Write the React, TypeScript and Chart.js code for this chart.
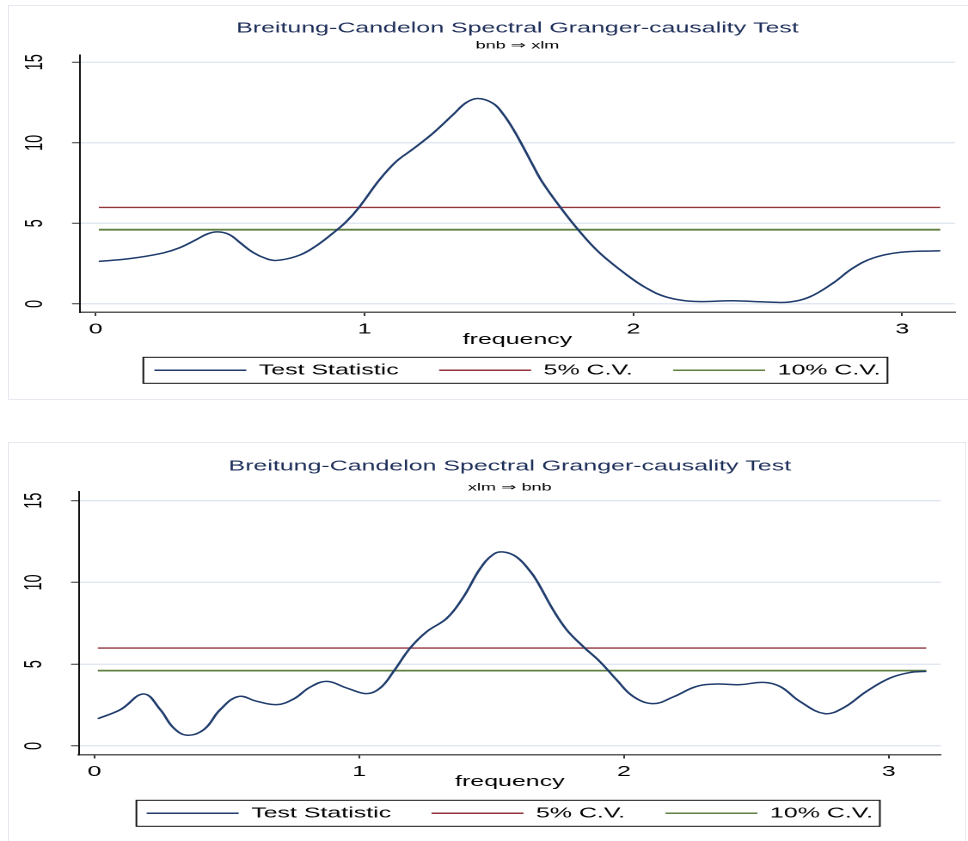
import React, { useEffect, useRef } from "react";
import { Chart, registerables } from "chart.js";

Chart.register(...registerables);

// ---------- data ----------
const xTicks = [0, 1, 2, 3];
const yTicks = [0, 5, 10, 15];
const titleText = "Breitung-Candelon Spectral Granger-causality Test";
const subtitleTop = "bnb \u21D2 xlm";
const subtitleBottom = "xlm \u21D2 bnb";
const xTitle = "frequency";
const legendLabels = ["Test Statistic", "5% C.V.", "10% C.V."];
const cv5 = 5.99;
const cv10 = 4.61;

const freqTop = [0.012, 0.126, 0.25, 0.31, 0.374, 0.418, 0.455, 0.498, 0.536, 0.585, 0.635, 0.672, 0.746, 0.808, 0.883, 0.932, 0.98, 1.056, 1.118, 1.18, 1.255, 1.329, 1.379, 1.422, 1.478, 1.515, 1.553, 1.59, 1.625, 1.66, 1.726, 1.8, 1.875, 1.974, 2.048, 2.123, 2.222, 2.37, 2.495, 2.581, 2.655, 2.743, 2.817, 2.892, 2.991, 3.1416];
const statTop = [2.64, 2.81, 3.16, 3.47, 3.99, 4.36, 4.47, 4.3, 3.82, 3.2, 2.81, 2.7, 2.95, 3.47, 4.4, 5.1, 6.0, 7.71, 8.84, 9.61, 10.6, 11.74, 12.5, 12.75, 12.45, 11.8, 10.85, 9.75, 8.65, 7.6, 6.05, 4.5, 3.16, 1.82, 0.99, 0.43, 0.16, 0.2, 0.12, 0.12, 0.43, 1.3, 2.23, 2.85, 3.2, 3.3];

const freqBottom = [0.013, 0.098, 0.186, 0.249, 0.299, 0.35, 0.413, 0.475, 0.545, 0.614, 0.689, 0.752, 0.815, 0.878, 0.954, 1.029, 1.079, 1.13, 1.192, 1.255, 1.331, 1.394, 1.457, 1.507, 1.545, 1.595, 1.645, 1.671, 1.733, 1.784, 1.846, 1.909, 1.972, 2.035, 2.11, 2.186, 2.274, 2.35, 2.438, 2.526, 2.589, 2.664, 2.758, 2.828, 2.916, 3.004, 3.079, 3.1416];
const statBottom = [1.67, 2.22, 3.18, 2.22, 1.11, 0.66, 1.0, 2.22, 3.03, 2.73, 2.53, 2.87, 3.6, 3.95, 3.54, 3.2, 3.54, 4.56, 5.98, 6.99, 7.81, 9.12, 10.85, 11.72, 11.86, 11.55, 10.7, 10.1, 8.31, 7.1, 6.08, 5.16, 4.05, 3.03, 2.59, 3.0, 3.64, 3.79, 3.75, 3.89, 3.64, 2.73, 1.98, 2.33, 3.34, 4.15, 4.49, 4.56];

// ---------- styles / geometry ----------
const LOGICAL_W = 563; // canvas is stretched horizontally to 968 css px
const CSS_W = 968;
const FONT = "'Liberation Sans', Arial, Helvetica, sans-serif";
const NAVY = "#1f3c6c";
const MAROON = "#93353b";
const GREEN = "#5f8040";
const TITLE_COLOR = "#1c2d58";
const GRID = "#e2e8f1";

type Geo = {
  cssTop: number;
  height: number;
  padTop: number;
  padBottom: number;
  padRight: number;
  titlePadBottom: number;
  subPadBottom: number;
  yWidth: number;
  xHeight: number;
  xTitlePadBottom: number;
  yMin: number;
  yMax: number;
  frameLeft: number;
  frameRight: number;
};

const geoTop: Geo = {
  cssTop: 0,
  height: 420,
  padTop: 19.6,
  padBottom: 32.45,
  padRight: 7.6,
  titlePadBottom: 2.1,
  subPadBottom: 3.3,
  yWidth: 46.53,
  xHeight: 27.55,
  xTitlePadBottom: -9.15,
  yMin: -0.5,
  yMax: 15.45,
  frameLeft: 6.4,
  frameRight: 4,
};

const geoBottom: Geo = {
  cssTop: 420,
  height: 421,
  padTop: 38,
  padBottom: 10.45,
  padRight: 15.9,
  titlePadBottom: 5.7,
  subPadBottom: -2.0,
  yWidth: 45.95,
  xHeight: 28.05,
  xTitlePadBottom: -8.35,
  yMin: -0.52,
  yMax: 15.55,
  frameLeft: 6.0,
  frameRight: 4,
};

function PanelChart({ freq, stat, subtitle, geo }: { freq: number[]; stat: number[]; subtitle: string; geo: Geo }) {
  const ref = useRef<HTMLCanvasElement>(null);
  useEffect(() => {
    const canvas = ref.current;
    if (!canvas) return;
    const legendFrame = {
      id: "legendFrame",
      afterDraw(chart: any) {
        const hb = chart.legend && chart.legend.legendHitBoxes;
        if (!hb || !hb.length) return;
        const first = hb[0];
        const last = hb[hb.length - 1];
        const cy = first.top + first.height / 2;
        const x1 = first.left - geo.frameLeft;
        const x2 = last.left + last.width + geo.frameRight;
        const ctx = chart.ctx;
        ctx.save();
        ctx.strokeStyle = "#111";
        ctx.lineWidth = 1;
        ctx.strokeRect(x1, cy - 13, x2 - x1, 26);
        ctx.restore();
      },
    };
    const f0 = freq[0];
    const f1 = freq[freq.length - 1];
    const chart = new Chart(canvas, {
      type: "line",
      data: {
        datasets: [
          {
            label: legendLabels[0],
            data: freq.map((f, i) => ({ x: f, y: stat[i] })),
            borderColor: NAVY,
            backgroundColor: NAVY,
            borderWidth: 1.5,
            pointRadius: 0,
            tension: 0.4,
          },
          {
            label: legendLabels[1],
            data: [
              { x: f0, y: cv5 },
              { x: f1, y: cv5 },
            ],
            borderColor: MAROON,
            backgroundColor: MAROON,
            borderWidth: 1.3,
            pointRadius: 0,
          },
          {
            label: legendLabels[2],
            data: [
              { x: f0, y: cv10 },
              { x: f1, y: cv10 },
            ],
            borderColor: GREEN,
            backgroundColor: GREEN,
            borderWidth: 1.8,
            pointRadius: 0,
          },
        ],
      } as any,
      options: {
        responsive: false,
        animation: false,
        devicePixelRatio: 2,
        events: [],
        layout: { padding: { top: geo.padTop, bottom: geo.padBottom, left: 0, right: geo.padRight } },
        plugins: {
          tooltip: { enabled: false },
          title: {
            display: true,
            text: titleText,
            color: TITLE_COLOR,
            fullSize: false,
            font: { family: FONT, size: 14.5, weight: "normal" },
            padding: { top: 0, bottom: geo.titlePadBottom },
          },
          subtitle: {
            display: true,
            text: subtitle,
            color: "#000",
            fullSize: false,
            font: { family: FONT, size: 10.5, weight: "normal" },
            padding: { top: 0, bottom: geo.subPadBottom },
          },
          legend: {
            display: true,
            position: "bottom",
            fullSize: false,
            labels: {
              color: "#000",
              font: { family: FONT, size: 14.5 },
              boxWidth: 53.5,
              boxHeight: 1.5,
              padding: 23.5,
              generateLabels: (c: any) =>
                c.data.datasets.map((ds: any, i: number) => ({
                  text: ds.label,
                  fillStyle: ds.borderColor,
                  strokeStyle: ds.borderColor,
                  lineWidth: 0,
                  hidden: false,
                  datasetIndex: i,
                  fontColor: "#000",
                })),
            },
          },
        },
        scales: {
          x: {
            type: "linear",
            min: -0.058,
            max: 3.196,
            afterBuildTicks: (s: any) => {
              s.ticks = xTicks.map((v) => ({ value: v }));
            },
            afterFit: (s: any) => {
              s.height = geo.xHeight;
            },
            ticks: {
              color: "#000",
              font: { family: FONT, size: 14.5 },
              padding: 4.6,
              maxRotation: 0,
              autoSkip: false,
            },
            grid: {
              drawOnChartArea: false,
              drawTicks: true,
              tickLength: 4,
              tickColor: "#333",
              tickWidth: 1,
            },
            border: { display: true, color: "#5a5a5a", width: 1.5 },
            title: {
              display: true,
              text: xTitle,
              color: "#000",
              font: { family: FONT, size: 14.5 },
              padding: { top: 0, bottom: geo.xTitlePadBottom },
            },
          },
          y: {
            type: "linear",
            min: geo.yMin,
            max: geo.yMax,
            afterBuildTicks: (s: any) => {
              s.ticks = yTicks.map((v) => ({ value: v }));
            },
            afterFit: (s: any) => {
              s.width = geo.yWidth;
            },
            ticks: {
              color: "#000",
              font: { family: FONT, size: 14.5 },
              padding: 13.2,
              minRotation: 90,
              maxRotation: 90,
              crossAlign: "center",
              autoSkip: false,
            },
            grid: {
              color: GRID,
              lineWidth: 1.5,
              drawTicks: true,
              tickLength: 4.65,
              tickColor: "#333",
              tickWidth: 1,
            },
            border: { display: true, color: "#111", width: 1 },
          },
        },
      } as any,
      plugins: [legendFrame],
    });
    return () => chart.destroy();
  }, [freq, stat, subtitle, geo]);
  return (
    <canvas
      ref={ref}
      width={LOGICAL_W}
      height={geo.height}
      style={{ position: "absolute", left: 0, top: geo.cssTop, width: CSS_W + "px", height: geo.height + "px" }}
    />
  );
}

export default function App() {
  return (
    <div
      style={{
        position: "absolute",
        left: 0,
        top: 0,
        width: 968,
        height: 841,
        overflow: "hidden",
        background: "#fff",
      }}
    >
      <div
        style={{
          position: "absolute",
          left: 8,
          top: 5,
          width: 980,
          height: 395,
          border: "1px solid #e6eaf0",
          boxSizing: "border-box",
        }}
      />
      <div
        style={{
          position: "absolute",
          left: 8,
          top: 442,
          width: 958,
          height: 420,
          border: "1px solid #e6eaf0",
          boxSizing: "border-box",
        }}
      />
      <PanelChart freq={freqTop} stat={statTop} subtitle={subtitleTop} geo={geoTop} />
      <PanelChart freq={freqBottom} stat={statBottom} subtitle={subtitleBottom} geo={geoBottom} />
    </div>
  );
}
